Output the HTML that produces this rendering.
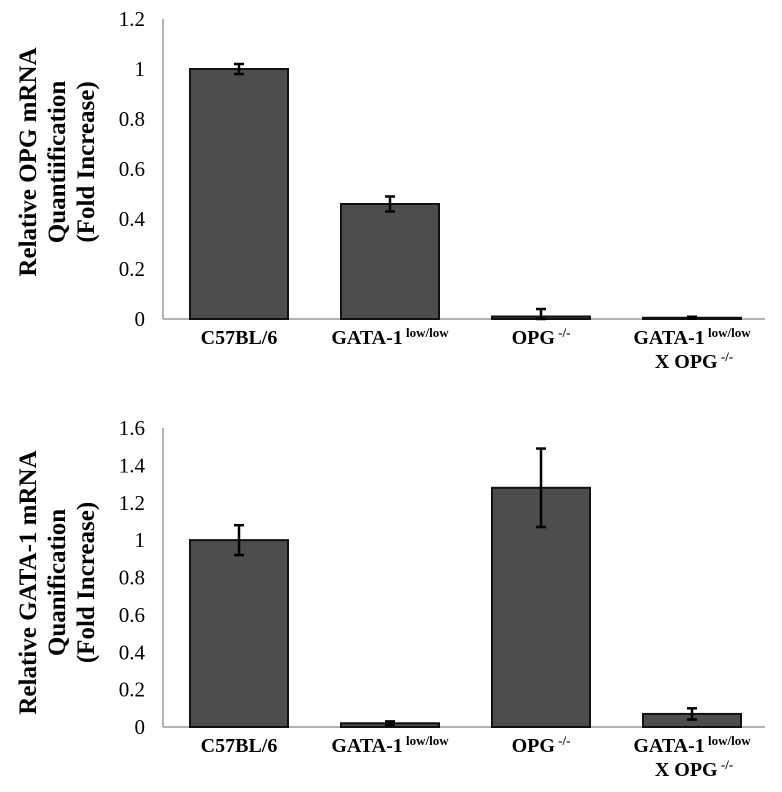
<!DOCTYPE html>
<html><head><meta charset="utf-8"><style>
html,body{margin:0;padding:0;background:#fff}
svg{display:block}
text{font-family:"Liberation Serif",serif;fill:#000}
</style></head><body>
<svg id="fig" width="782" height="792" viewBox="0 0 782 792"></svg>
<script>
const categories = ["C57BL/6", "GATA-1", "OPG", "GATA-1"];
const opgValues = [1.0, 0.46, 0.01, 0.005];
const opgErrors = [0.02, 0.03, 0.03, 0.004];
const opgTicks = [0, 0.2, 0.4, 0.6, 0.8, 1, 1.2];
const gataValues = [1.0, 0.02, 1.28, 0.07];
const gataErrors = [0.08, 0.01, 0.21, 0.03];
const gataTicks = [0, 0.2, 0.4, 0.6, 0.8, 1, 1.2, 1.4, 1.6];

const NS = "http://www.w3.org/2000/svg";
const svg = document.getElementById("fig");
function mk(tag, attrs, parent) {
  const e = document.createElementNS(NS, tag);
  for (const k in attrs) e.setAttribute(k, attrs[k]);
  (parent || svg).appendChild(e);
  return e;
}
function chart(cfg) {
  const g = mk("g", {});
  
  
  const x0 = 163, x1 = 765, step = 151, first = 239, bw = 98;
  const yMax = cfg.ticks[cfg.ticks.length - 1];
  const y = v => cfg.base - (v / yMax) * (cfg.base - cfg.top);
  const xc = i => first + i * step;
  const ax = mk("line", {x1: x0, y1: cfg.top, x2: x0, y2: cfg.base, stroke: "#999", "stroke-width": 1.5}, g);
  
  
  const bx = mk("line", {x1: x0, y1: cfg.base, x2: x1, y2: cfg.base, stroke: "#999", "stroke-width": 1.5}, g);
  
  
  cfg.ticks.forEach(t => {
    const tx = mk("text", {x: 145, y: y(t) + 7, "text-anchor": "end", "font-size": 21}, g);
    tx.textContent = String(t);
    
    
  });
  cfg.values.forEach((v, i) => {
    const r = mk("rect", {x: xc(i) - bw / 2, y: y(v), width: bw, height: cfg.base - y(v), fill: "#4d4d4d", stroke: "#111", "stroke-width": 2}, g);
    
    
    const e = cfg.errors[i];
    const eg = mk("g", {stroke: "#000", "stroke-width": 2.5}, g);
    
    
    mk("line", {x1: xc(i), y1: y(v + e), x2: xc(i), y2: y(Math.max(0, v - e))}, eg);
    mk("line", {x1: xc(i) - 5, y1: y(v + e), x2: xc(i) + 5, y2: y(v + e)}, eg);
    mk("line", {x1: xc(i) - 5, y1: y(Math.max(0, v - e)), x2: xc(i) + 5, y2: y(Math.max(0, v - e))}, eg);
  });
  const sups = ["", "low/low", "-/-", "low/low"];
  categories.forEach((c, i) => {
    const t = mk("text", {x: xc(i), y: cfg.base + 25, "text-anchor": "middle", "font-size": 20, "font-weight": "bold"}, g);
    
    
    t.appendChild(document.createTextNode(c));
    if (sups[i]) {
      const s = mk("tspan", {"font-size": 13, dy: -7}, t);
      s.textContent = " " + sups[i];
    }
    if (i === 3) {
      const t2 = mk("text", {x: xc(i) + 2, y: cfg.base + 49, "text-anchor": "middle", "font-size": 20, "font-weight": "bold"}, g);
      
      
      t2.appendChild(document.createTextNode("X OPG"));
      const s2 = mk("tspan", {"font-size": 13, dy: -7}, t2);
      s2.textContent = " -/-";
    }
  });
  const cy = (cfg.top + cfg.base) / 2 + cfg.titleShift;
  const tg = mk("text", {transform: `translate(0,${cy}) rotate(-90)`, "text-anchor": "middle", "font-size": 25, "font-weight": "bold"}, g);
  
  
  cfg.title.forEach((line, k) => {
    const s = mk("tspan", {x: 0, y: 36 + k * 29}, tg);
    s.textContent = line;
  });
}
chart({name: "opg-chart", top: 19, base: 319, values: opgValues, errors: opgErrors, ticks: opgTicks, titleShift: -7,
  title: ["Relative OPG mRNA", "Quantiification", "(Fold Increase)"]});
chart({name: "gata1-chart", top: 428, base: 727, values: gataValues, errors: gataErrors, ticks: gataTicks, titleShift: 5,
  title: ["Relative GATA-1 mRNA", "Quanification", "(Fold Increase)"]});
</script>
</body></html>
